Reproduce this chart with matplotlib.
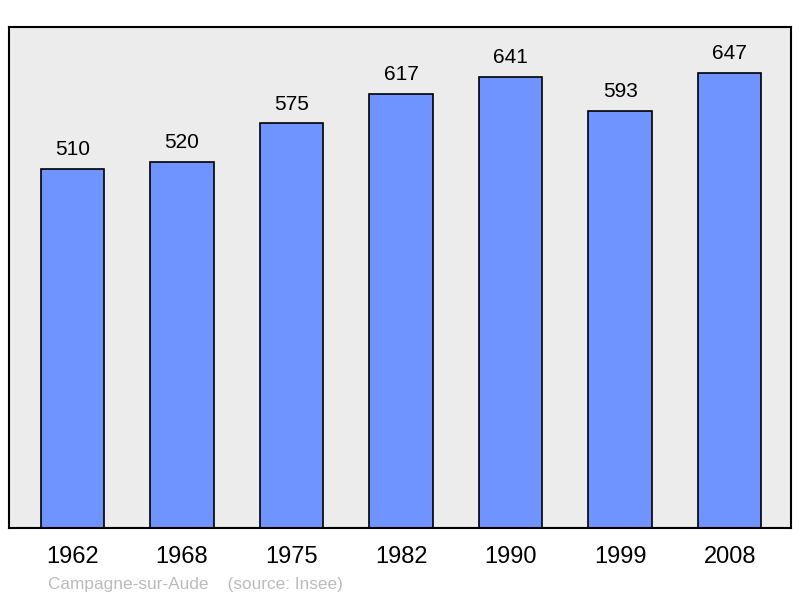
import matplotlib
matplotlib.use("Agg")
import matplotlib.pyplot as plt

years = ["1962", "1968", "1975", "1982", "1990", "1999", "2008"]
population = [510, 520, 575, 617, 641, 593, 647]

plt.rcParams['font.family'] = ['Liberation Sans', 'DejaVu Sans']

fig = plt.figure(figsize=(8.0, 5.98), dpi=100)
W, H = 800, 598
ax = fig.add_axes([9 / W, 1 - 528 / H, (791 - 9) / W, (528 - 27) / H])
ax.set_facecolor('#ececec')

x = list(range(len(years)))
ax.bar(x, population, width=0.58, color='#7094ff', edgecolor='black', linewidth=1.2, zorder=2)
for xi, v in zip(x, population):
    ax.annotate(str(v), (xi, v), xytext=(0, 7), textcoords='offset points',
                ha='center', va='bottom', fontsize=15, color='black')

ax.set_xlim(-0.58, 6.56)
ax.set_ylim(0, max(population) * 1.1)
ax.set_yticks([])
ax.set_xticks(x)
ax.set_xticklabels(years, fontsize=17)
ax.tick_params(axis='x', length=0, pad=13)
for s in ax.spines.values():
    s.set_linewidth(1.5)
    s.set_color('black')

fig.text(48 / W, 1 - 585 / H, "Campagne-sur-Aude    (source: Insee)", fontsize=12.4,
         color='#bbbbbb', ha='left', va='center')

fig.savefig("out.png", dpi=100, facecolor='white')
